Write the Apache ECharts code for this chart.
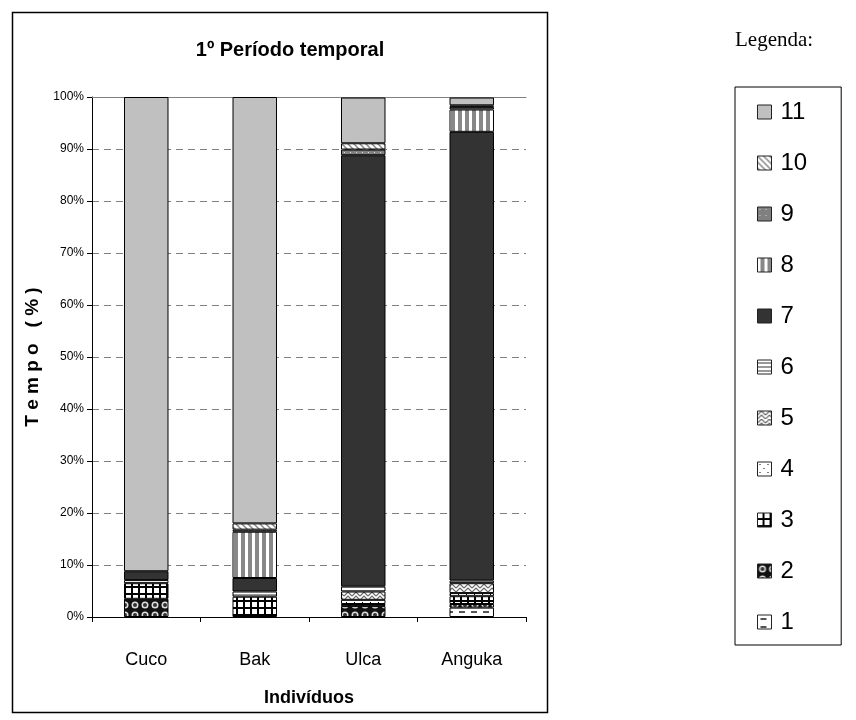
<!DOCTYPE html>
<html>
<head>
<meta charset="utf-8">
<script src="https://cdn.jsdelivr.net/npm/echarts@6/dist/echarts.min.js"></script>
<style>
html,body{margin:0;padding:0;background:#fff;}
#chart{width:856px;height:720px;}
</style>
</head>
<body>
<div id="chart"></div>
<script>
// ---- Data ----
var categories = ['Cuco', 'Bak', 'Ulca', 'Anguka'];
var seriesNames = ['1', '2', '3', '4', '5', '6', '7', '8', '9', '10', '11'];
var s1  = [0,    0,    0,    1.8];
var s2  = [3.5,  0,    2.1,  0.7];
var s3  = [3.0,  3.9,  0.4,  1.5];
var s4  = [0,    0,    0.8,  0.6];
var s5  = [0,    0,    1.6,  1.9];
var s6  = [0.6,  1.0,  1.0,  0.5];
var s7  = [1.7,  2.6,  82.9, 86.3];
var s8  = [0,    8.9,  0,    4.3];
var s9  = [0,    0.4,  1.1,  0.5];
var s10 = [0,    1.2,  1.2,  0.3];
var s11 = [91.2, 82.0, 8.8,  1.5];
var seriesValues = [s1, s2, s3, s4, s5, s6, s7, s8, s9, s10, s11];
var yTicks = [0, 10, 20, 30, 40, 50, 60, 70, 80, 90, 100];

// ---- Patterns ----
function tile(w, h, draw) {
  var c = document.createElement('canvas');
  c.width = w; c.height = h;
  var g = c.getContext('2d');
  draw(g, w, h);
  return { image: c, repeat: 'repeat' };
}
var fills = {
  '1': tile(12, 8, function (g) { g.fillStyle = '#fff'; g.fillRect(0, 0, 12, 8); g.fillStyle = '#555'; g.fillRect(3, 3, 6, 2); }),
  '2': tile(10, 10, function (g) {
    g.fillStyle = '#111'; g.fillRect(0, 0, 10, 10);
    g.fillStyle = '#ddd'; g.beginPath(); g.arc(5, 5, 3.5, 0, Math.PI * 2); g.fill();
    g.fillStyle = '#333'; g.beginPath(); g.arc(5, 5, 2, 0, Math.PI * 2); g.fill();
  }),
  '3': tile(7, 7, function (g) { g.fillStyle = '#000'; g.fillRect(0, 0, 7, 7); g.fillStyle = '#fff'; g.fillRect(0, 0, 5, 5); }),
  '4': tile(8, 8, function (g) { g.fillStyle = '#fff'; g.fillRect(0, 0, 8, 8); g.fillStyle = '#000'; g.fillRect(2, 2, 1, 1); g.fillRect(6, 6, 1, 1); }),
  '5': tile(8, 8, function (g) {
    g.fillStyle = '#fff'; g.fillRect(0, 0, 8, 8);
    g.strokeStyle = '#666'; g.lineWidth = 1.2;
    g.beginPath(); g.moveTo(0, 8); g.lineTo(4, 4); g.lineTo(8, 8); g.moveTo(0, 4); g.lineTo(4, 0); g.lineTo(8, 4); g.stroke();
  }),
  '6': tile(4, 4, function (g) { g.fillStyle = '#fff'; g.fillRect(0, 0, 4, 4); g.fillStyle = '#999'; g.fillRect(0, 2, 4, 2); }),
  '7': '#333333',
  '8': tile(7, 4, function (g) { g.fillStyle = '#fff'; g.fillRect(0, 0, 7, 4); g.fillStyle = '#888'; g.fillRect(3, 0, 4, 4); }),
  '9': tile(6, 6, function (g) { g.fillStyle = '#808080'; g.fillRect(0, 0, 6, 6); g.fillStyle = '#ddd'; g.fillRect(2, 2, 1, 1); }),
  '10': tile(6, 6, function (g) {
    g.fillStyle = '#fff'; g.fillRect(0, 0, 6, 6);
    g.strokeStyle = '#888'; g.lineWidth = 1.5;
    g.beginPath(); g.moveTo(0, 0); g.lineTo(6, 6); g.moveTo(-3, 3); g.lineTo(3, 9); g.moveTo(3, -3); g.lineTo(9, 3); g.stroke();
  }),
  '11': '#C0C0C0'
};

var series = seriesNames.map(function (name, i) {
  return {
    name: name,
    type: 'bar',
    stack: 'total',
    barWidth: '41%',
    data: seriesValues[i].map(function (v) { return v === 0 ? null : v; }),
    itemStyle: { color: fills[name], borderColor: '#000', borderWidth: 1 },
    emphasis: { disabled: true },
    animation: false
  };
});

var chart = echarts.init(document.getElementById('chart'), null, { renderer: 'canvas' });
var narrow = '"Liberation Sans Narrow", "Arial Narrow", "Liberation Sans", Arial, sans-serif';
var sans = '"Liberation Sans", Arial, sans-serif';

chart.setOption({
  backgroundColor: '#fff',
  animation: false,
  title: {
    text: '1º Período temporal',
    left: 285, top: 35, textAlign: 'center',
    textStyle: { fontFamily: sans, fontSize: 20, fontWeight: 'bold', color: '#000' }
  },
  graphic: [
    { type: 'rect', shape: { x: 12.5, y: 12.5, width: 535, height: 700 }, style: { fill: 'none', stroke: '#000', lineWidth: 1.5 }, silent: true, z: -1 },
    { type: 'text', left: 735, top: 30, style: { text: 'Legenda:', font: '21px "Liberation Serif", "Times New Roman", serif', fill: '#000' } }
  ],
  legend: {
    data: seriesNames.slice().reverse(),
    orient: 'vertical',
    left: 735, top: 87,
    itemWidth: 14, itemHeight: 14,
    itemGap: 27,
    padding: [13, 34, 11, 22],
    backgroundColor: '#fff',
    borderColor: '#000', borderWidth: 1,
    selectedMode: false,
    icon: 'rect',
    itemStyle: { borderColor: '#222', borderWidth: 1 },
    textStyle: { fontFamily: sans, fontSize: 24, color: '#000', lineHeight: 24, padding: [0, 0, 0, 4] }
  },
  grid: { left: 92, right: 330, top: 97, bottom: 103 },
  xAxis: [{
    type: 'category',
    data: categories,
    name: 'Indivíduos',
    nameLocation: 'middle',
    nameGap: 72,
    nameTextStyle: { fontFamily: sans, fontSize: 18, fontWeight: 'bold', color: '#000' },
    axisLine: { lineStyle: { color: '#000', width: 1 } },
    axisTick: { show: true, alignWithLabel: false, length: 5, lineStyle: { color: '#000' } },
    axisLabel: { fontFamily: narrow, fontSize: 18, color: '#000', margin: 34 }
  }, {
    type: 'category',
    data: categories,
    position: 'top',
    axisLine: { lineStyle: { color: '#808080', width: 1 } },
    axisTick: { show: false },
    axisLabel: { show: false }
  }],
  yAxis: {
    type: 'value',
    min: yTicks[0], max: yTicks[yTicks.length - 1], interval: 10,
    name: 'T e m p o   ( % )',
    nameLocation: 'middle',
    nameGap: 42,
    nameTextStyle: { fontFamily: sans, fontSize: 19, fontWeight: 'bold', color: '#000' },
    axisLine: { show: true, lineStyle: { color: '#000', width: 1 } },
    axisTick: { show: true, length: 5, lineStyle: { color: '#000' } },
    axisLabel: { fontFamily: narrow, fontSize: 12, color: '#000', margin: 8, formatter: '{value}%' },
    splitLine: { show: true, lineStyle: { color: '#808080', type: [7, 5], width: 1 } }
  },
  series: series
});
</script>
</body>
</html>
